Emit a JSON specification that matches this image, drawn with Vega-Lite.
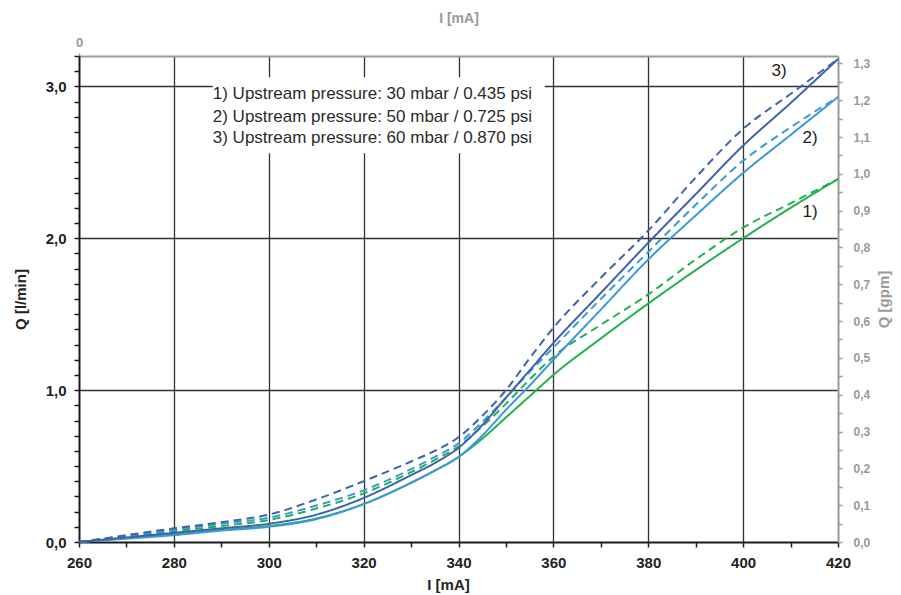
{
  "$schema": "https://vega.github.io/schema/vega-lite/v6.json",
  "width": 759,
  "height": 486,
  "autosize": "none",
  "padding": {"left": 79, "top": 56, "right": 63, "bottom": 53},
  "background": "white",
  "config": {"view": {"stroke": null}, "font": "Liberation Sans"},
  "layer": [
    {
      "data": {"values": [
        {"I": 260, "1s": 0, "1d": 0, "2s": 0, "2d": 0, "3s": 0, "3d": 0},
        {"I": 270, "1s": 0.025, "1d": 0.035, "2s": 0.022, "2d": 0.04, "3s": 0.03, "3d": 0.045},
        {"I": 280, "1s": 0.05, "1d": 0.07, "2s": 0.045, "2d": 0.08, "3s": 0.06, "3d": 0.09},
        {"I": 290, "1s": 0.08, "1d": 0.105, "2s": 0.075, "2d": 0.12, "3s": 0.09, "3d": 0.13},
        {"I": 300, "1s": 0.105, "1d": 0.145, "2s": 0.1, "2d": 0.16, "3s": 0.12, "3d": 0.18},
        {"I": 310, "1s": 0.155, "1d": 0.22, "2s": 0.15, "2d": 0.24, "3s": 0.18, "3d": 0.28},
        {"I": 320, "1s": 0.25, "1d": 0.32, "2s": 0.25, "2d": 0.34, "3s": 0.29, "3d": 0.4},
        {"I": 330, "1s": 0.39, "1d": 0.46, "2s": 0.39, "2d": 0.48, "3s": 0.44, "3d": 0.53},
        {"I": 335, "1s": 0.47, "1d": 0.54, "2s": 0.47, "2d": 0.56, "3s": 0.52, "3d": 0.6},
        {"I": 340, "1s": 0.56, "1d": 0.63, "2s": 0.56, "2d": 0.65, "3s": 0.62, "3d": 0.69},
        {"I": 345, "1s": 0.68, "1d": 0.76, "2s": 0.7, "2d": 0.79, "3s": 0.77, "3d": 0.83},
        {"I": 350, "1s": 0.82, "1d": 0.91, "2s": 0.87, "2d": 0.95, "3s": 0.95, "3d": 1.0},
        {"I": 355, "1s": 0.96, "1d": 1.07, "2s": 1.03, "2d": 1.12, "3s": 1.13, "3d": 1.21},
        {"I": 360, "1s": 1.1, "1d": 1.22, "2s": 1.2, "2d": 1.28, "3s": 1.31, "3d": 1.41},
        {"I": 370, "1s": 1.34, "1d": 1.43, "2s": 1.53, "2d": 1.6, "3s": 1.64, "3d": 1.74},
        {"I": 380, "1s": 1.57, "1d": 1.63, "2s": 1.86, "2d": 1.91, "3s": 1.97, "3d": 2.05},
        {"I": 390, "1s": 1.79, "1d": 1.86, "2s": 2.15, "2d": 2.22, "3s": 2.29, "3d": 2.4},
        {"I": 400, "1s": 2.0, "1d": 2.07, "2s": 2.43, "2d": 2.51, "3s": 2.61, "3d": 2.72},
        {"I": 410, "1s": 2.2, "1d": 2.23, "2s": 2.68, "2d": 2.73, "3s": 2.89, "3d": 2.95},
        {"I": 420, "1s": 2.39, "1d": 2.39, "2s": 2.93, "2d": 2.93, "3s": 3.18, "3d": 3.18}
      ]},
      "transform": [{"fold": ["1s", "1d", "2s", "2d", "3s", "3d"], "as": ["series", "Q"]}],
      "mark": {"type": "line", "interpolate": "monotone", "strokeWidth": 2},
      "encoding": {
        "x": {
          "field": "I", "type": "quantitative",
          "scale": {"domain": [260, 420], "nice": false, "zero": false},
          "axis": {
            "orient": "bottom",
            "title": "I [mA]",
            "values": [260, 270, 280, 290, 300, 310, 320, 330, 340, 350, 360, 370, 380, 390, 400, 410, 420],
            "labelExpr": "datum.value % 20 === 0 ? datum.label : ''",
            "labelFlush": false, "labelOverlap": false, "labelBound": false,
            "domainColor": "#1a1a1a", "domainWidth": 2,
            "tickColor": "#1a1a1a", "tickWidth": 1.5, "tickSize": 5,
            "labelFont": "Liberation Sans", "labelFontWeight": "bold", "labelFontSize": 15, "labelColor": "#222222", "labelPadding": 8,
            "grid": true, "gridColor": "#333333", "gridWidth": 1.3,
            "gridOpacity": {"condition": {"test": "datum.value % 20 === 0 && datum.value > 260 && datum.value < 420", "value": 1}, "value": 0},
            "titleFont": "Liberation Sans", "titleFontWeight": "bold", "titleFontSize": 15, "titleColor": "#222222",
            "titleX": 369, "titleY": 47, "titleBaseline": "alphabetic"
          }
        },
        "y": {
          "field": "Q", "type": "quantitative",
          "scale": {"domain": [0, 3.2], "nice": false},
          "axis": {
            "orient": "left",
            "title": "Q [l/min]",
            "values": [0, 0.1, 0.2, 0.3, 0.4, 0.5, 0.6, 0.7, 0.8, 0.9, 1, 1.1, 1.2, 1.3, 1.4, 1.5, 1.6, 1.7, 1.8, 1.9, 2, 2.1, 2.2, 2.3, 2.4, 2.5, 2.6, 2.7, 2.8, 2.9, 3, 3.1, 3.2],
            "labelExpr": "abs(datum.value - round(datum.value)) < 0.001 ? replace(format(datum.value, '.1f'), '.', ',') : ''",
            "labelFlush": false, "labelOverlap": false, "labelBound": false,
            "domainColor": "#1a1a1a", "domainWidth": 2,
            "tickColor": "#1a1a1a", "tickWidth": 1.5, "tickSize": 5,
            "labelFont": "Liberation Sans", "labelFontWeight": "bold", "labelFontSize": 15, "labelColor": "#222222", "labelPadding": 8,
            "grid": true, "gridColor": "#333333", "gridWidth": 1.3,
            "gridOpacity": {"condition": {"test": "abs(datum.value - round(datum.value)) < 0.001 && datum.value > 0.5", "value": 1}, "value": 0},
            "titleFont": "Liberation Sans", "titleFontWeight": "bold", "titleFontSize": 15, "titleColor": "#222222",
            "titleAngle": -90, "titleX": -59, "titleY": 243, "titleAlign": "center", "titleBaseline": "middle"
          }
        },
        "color": {
          "field": "series", "type": "nominal", "legend": null,
          "scale": {"domain": ["1s", "1d", "2s", "2d", "3s", "3d"], "range": ["#22b24c", "#22b24c", "#3a9ad9", "#3a9ad9", "#3d62ae", "#3d62ae"]}
        },
        "strokeDash": {
          "field": "series", "type": "nominal", "legend": null,
          "scale": {"domain": ["1s", "1d", "2s", "2d", "3s", "3d"], "range": [[1, 0], [8, 5], [1, 0], [8, 5], [1, 0], [8, 5]]}
        }
      }
    },
    {
      "data": {"values": [{"box": "legend"}]},
      "mark": {"type": "rect", "fill": "white", "stroke": null},
      "encoding": {
        "x": {"datum": 288.2, "type": "quantitative", "scale": {"domain": [260, 420], "nice": false, "zero": false}, "axis": null},
        "x2": {"datum": 358.2},
        "y": {"datum": 3.06, "type": "quantitative", "scale": {"domain": [0, 3.2], "nice": false}, "axis": null},
        "y2": {"datum": 2.56}
      }
    },
    {
      "data": {"values": [
        {"label": "1) Upstream pressure: 30 mbar / 0.435 psi", "I": 288.2, "Q": 2.914},
        {"label": "2) Upstream pressure: 50 mbar / 0.725 psi", "I": 288.2, "Q": 2.768},
        {"label": "3) Upstream pressure: 60 mbar / 0.870 psi", "I": 288.2, "Q": 2.627}
      ]},
      "mark": {"type": "text", "align": "left", "baseline": "alphabetic", "font": "Liberation Sans", "fontSize": 17, "color": "#2b2b2b"},
      "encoding": {
        "x": {"field": "I", "type": "quantitative", "scale": {"domain": [260, 420], "nice": false, "zero": false}, "axis": null},
        "y": {"field": "Q", "type": "quantitative", "scale": {"domain": [0, 3.2], "nice": false}, "axis": null},
        "text": {"field": "label"}
      }
    },
    {
      "data": {"values": [
        {"label": "3)", "I": 407.6, "Q": 3.1},
        {"label": "2)", "I": 414.1, "Q": 2.66},
        {"label": "1)", "I": 414.1, "Q": 2.17}
      ]},
      "mark": {"type": "text", "align": "center", "baseline": "middle", "font": "Liberation Sans", "fontSize": 17, "color": "#1a1a1a"},
      "encoding": {
        "x": {"field": "I", "type": "quantitative", "scale": {"domain": [260, 420], "nice": false, "zero": false}, "axis": null},
        "y": {"field": "Q", "type": "quantitative", "scale": {"domain": [0, 3.2], "nice": false}, "axis": null},
        "text": {"field": "label"}
      }
    },
    {
      "data": {"values": [{"gpm": 0}, {"gpm": 1.32}]},
      "mark": {"type": "point", "opacity": 0},
      "encoding": {
        "y": {
          "field": "gpm", "type": "quantitative",
          "scale": {"domain": [0, 1.32], "nice": false},
          "axis": {
            "orient": "right",
            "title": "Q [gpm]",
            "values": [0, 0.05, 0.1, 0.15, 0.2, 0.25, 0.3, 0.35, 0.4, 0.45, 0.5, 0.55, 0.6, 0.65, 0.7, 0.75, 0.8, 0.85, 0.9, 0.95, 1, 1.05, 1.1, 1.15, 1.2, 1.25, 1.3],
            "labelExpr": "abs(datum.value * 10 - round(datum.value * 10)) < 0.01 ? replace(format(datum.value, '.1f'), '.', ',') : ''",
            "labelFlush": false, "labelOverlap": false, "labelBound": false,
            "domainColor": "#9a9a9a", "domainWidth": 2,
            "tickColor": "#9a9a9a", "tickWidth": 1.5, "tickSize": 4,
            "labelFont": "Liberation Sans", "labelFontWeight": "bold", "labelFontSize": 12, "labelColor": "#999999", "labelPadding": 11,
            "grid": false,
            "titleFont": "Liberation Sans", "titleFontWeight": "bold", "titleFontSize": 15, "titleColor": "#999999",
            "titleAngle": -90, "titleX": 45, "titleY": 243, "titleAlign": "center", "titleBaseline": "middle"
          }
        }
      }
    },
    {
      "data": {"values": [{"t": 0}]},
      "mark": {"type": "point", "opacity": 0},
      "encoding": {
        "x": {
          "field": "t", "type": "quantitative",
          "scale": {"domain": [0, 1], "nice": false},
          "axis": {
            "orient": "top",
            "title": "I [mA]",
            "values": [0],
            "labelFlush": false, "labelBound": false,
            "domainColor": "#9a9a9a", "domainWidth": 2,
            "tickColor": "#9a9a9a", "tickWidth": 1.5, "tickSize": 3,
            "labelFont": "Liberation Sans", "labelFontWeight": "bold", "labelFontSize": 13, "labelColor": "#999999", "labelPadding": 4,
            "grid": false,
            "titleFont": "Liberation Sans", "titleFontWeight": "bold", "titleFontSize": 14, "titleColor": "#999999",
            "titleY": -38, "titleBaseline": "middle"
          }
        }
      }
    }
  ],
  "resolve": {
    "scale": {"x": "independent", "y": "independent"},
    "axis": {"x": "independent", "y": "independent"}
  }
}
